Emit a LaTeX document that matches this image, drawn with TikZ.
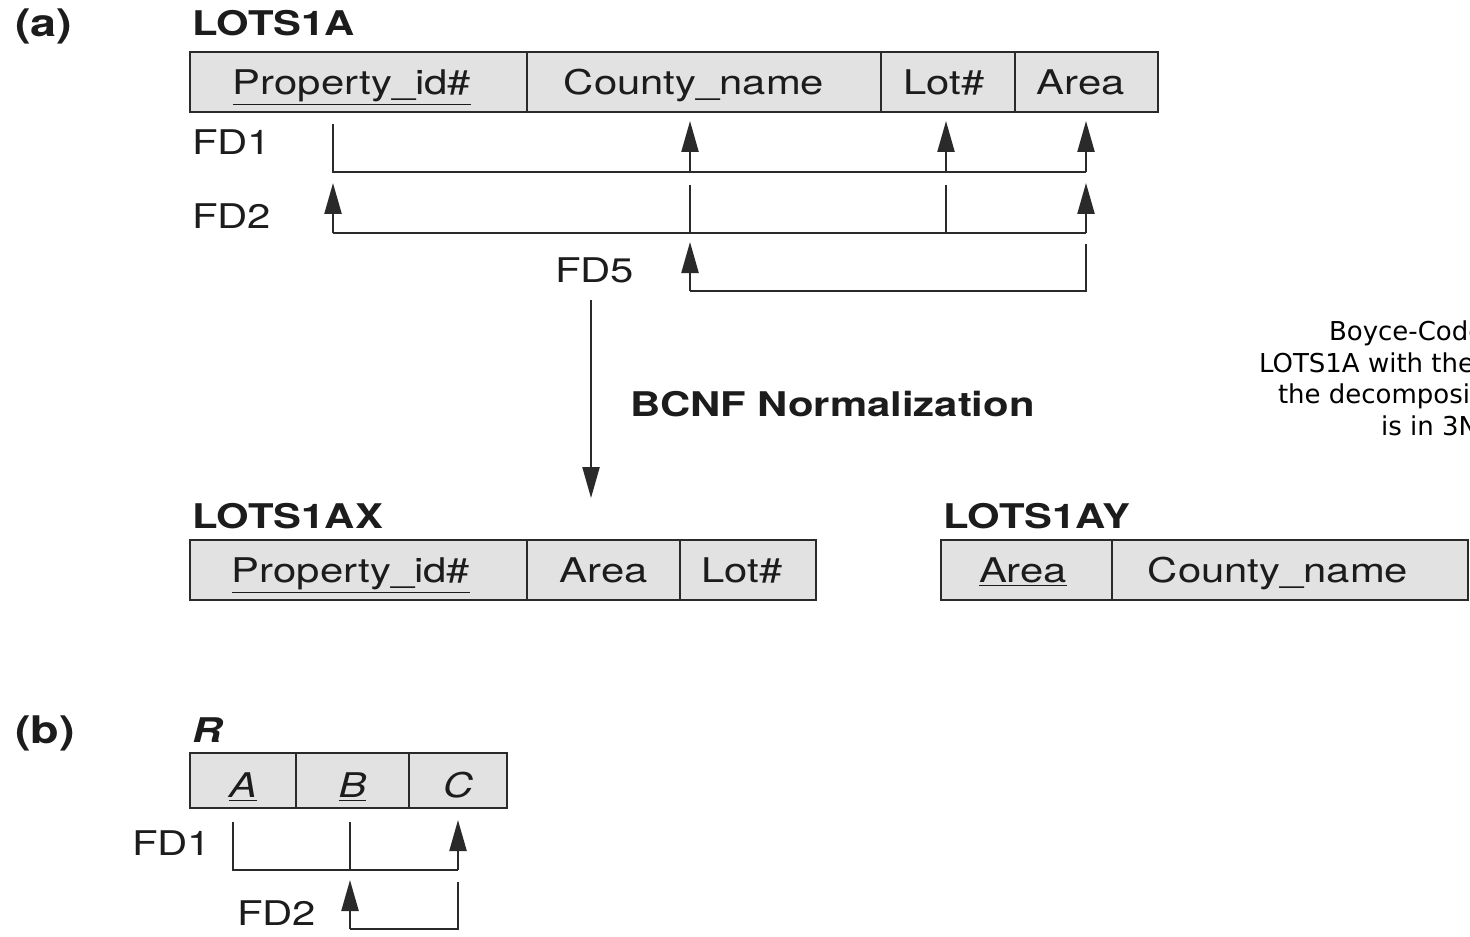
\documentclass[tikz,border=0pt]{standalone}
\usepackage{fontspec}
\setmainfont{TeX Gyre Heros}[FakeStretch=1.23]
\newfontfamily\capfont{DejaVu Sans}
\usetikzlibrary{arrows.meta}
\definecolor{linec}{HTML}{2A2A2A}
\definecolor{cellfill}{HTML}{E2E2E2}
\definecolor{txt}{HTML}{1C1C1C}
\newcommand\tf{\fontsize{17}{20}\selectfont}
\newcommand\lf{\fontsize{19}{22}\selectfont\bfseries}
\newcommand\cf{\capfont\fontsize{13}{16}\selectfont}
\tikzset{
  cell/.style={draw=linec, line width=1pt, fill=cellfill, inner sep=0pt, outer sep=0pt,
    anchor=north west, text height=12.5pt, text depth=0pt, font=\tf, text=txt},
  bcell/.style={cell, text height=17pt},
  frame/.style={draw=linec, line width=1.3pt},
  lbl/.style={anchor=base west, inner sep=0pt, outer sep=0pt, font=\tf, text=txt},
  hd/.style={lbl, font=\tf\bfseries},
  tag/.style={lbl, font=\lf},
  fd/.style={draw=linec, line width=1.15pt},
  fdarr/.style={fd, -{Triangle[length=15.5pt,width=8.5pt]}},
  captxt/.style={anchor=base west, inner sep=0pt, outer sep=0pt, font=\cf, text=black},
}
\begin{document}
\begin{tikzpicture}[x=0.5pt,y=-0.5pt]
\useasboundingbox (0,0) rectangle (1470,936);
\fill[white] (0,0) rectangle (1470,936);
\clip (0,0) rectangle (1470,936);

% ---------- (a) ----------
\node[tag] (ta) at (15,37) {(a)};
\node[hd] (hA) at (192,36) {LOTS1A};

\node[cell, minimum width=168.5pt, minimum height=30pt] (t1) at (190,52) {\underline{Property\_id\#}\kern6.5pt};
\node[cell, minimum width=177pt, minimum height=30pt] (t2) at (t1.north east) {County\_name\kern10pt};
\node[cell, minimum width=67pt, minimum height=30pt] (t3) at (t2.north east) {Lot\#\kern4pt};
\node[cell, minimum width=71.5pt, minimum height=30pt] (t4) at (t3.north east) {Area\kern6pt};
\draw[frame] (t1.north west) rectangle (t4.south east);

\node[lbl] (fd1) at (192,155) {FD1};
\node[lbl] (fd2) at (192,228) {FD2};
\node[lbl] (fd5) at (555,282) {FD5};

% FD1
\coordinate (a1) at (333,124);
\coordinate (a1c) at (333,172);
\coordinate (c1c) at (690,172);
\coordinate (l1c) at (946,172);
\coordinate (r1c) at (1086,172);
\coordinate (c1t) at (690,121);
\coordinate (l1t) at (946,121);
\coordinate (r1t) at (1086,121);
\draw[fd] (a1) -- (a1c) -- (r1c);
\draw[fdarr] (c1c) -- (c1t);
\draw[fdarr] (l1c) -- (l1t);
\draw[fdarr] (r1c) -- (r1t);

% FD2
\coordinate (a2c) at (333,233);
\coordinate (a2t) at (333,183);
\coordinate (c2s) at (690,185);
\coordinate (c2c) at (690,233);
\coordinate (l2s) at (946,185);
\coordinate (l2c) at (946,233);
\coordinate (r2c) at (1086,233);
\coordinate (r2t) at (1086,183);
\draw[fd] (a2c) -- (r2c);
\draw[fdarr] (a2c) -- (a2t);
\draw[fd] (c2s) -- (c2c);
\draw[fd] (l2s) -- (l2c);
\draw[fdarr] (r2c) -- (r2t);

% FD5
\coordinate (c5c) at (690,291);
\coordinate (c5t) at (690,242);
\coordinate (r5s) at (1086,244);
\coordinate (r5c) at (1086,291);
\draw[fd] (r5s) -- (r5c) -- (c5c);
\draw[fdarr] (c5c) -- (c5t);

% BCNF arrow
\coordinate (bcA) at (591,300);
\coordinate (bcB) at (591,498);
\draw[fdarr] (bcA) -- (bcB);
\node[hd] (bcnf) at (630,416) {BCNF Normalization};

% LOTS1AX
\node[hd] (hX) at (192,528) {LOTS1AX};
\node[cell, minimum width=168.5pt, minimum height=30pt] (x1) at (190,540) {\underline{Property\_id\#}\kern7.5pt};
\node[cell, minimum width=76.5pt, minimum height=30pt] (x2) at (x1.north east) {Area};
\node[cell, minimum width=68pt, minimum height=30pt] (x3) at (x2.north east) {Lot\#\kern6pt};
\draw[frame] (x1.north west) rectangle (x3.south east);

% LOTS1AY
\node[hd] (hY) at (943,528) {LOTS1AY};
\node[cell, minimum width=85.5pt, minimum height=30pt] (y1) at (941,540) {\underline{Area}\kern3.5pt};
\node[cell, minimum width=178pt, minimum height=30pt] (y2) at (y1.north east) {County\_name\kern12pt};
\draw[frame] (y1.north west) rectangle (y2.south east);

% caption fragment
\node[captxt] (cp1) at (1329,340) {Boyce-Codd};
\node[captxt] (cp2) at (1259,372) {LOTS1A with the};
\node[captxt] (cp3) at (1278,403) {the decomposit};
\node[captxt] (cp4) at (1381,435) {is in 3N};

% ---------- (b) ----------
\node[tag] (tb) at (15,743) {(b)};
\node[hd] (hR) at (192,742) {\itshape R};
\node[bcell, minimum width=53pt, minimum height=27.5pt] (r1) at (190,753) {\underline{\itshape A}};
\node[bcell, minimum width=56.5pt, minimum height=27.5pt] (r2) at (r1.north east) {\underline{\itshape B}};
\node[bcell, minimum width=49pt, minimum height=27.5pt] (r3) at (r2.north east) {\itshape C};
\draw[frame] (r1.north west) rectangle (r3.south east);

\node[lbl] (bfd1) at (132,855) {FD1};
\node[lbl] (bfd2) at (237,925) {FD2};

\coordinate (ba1) at (233,822);
\coordinate (ba1c) at (233,870);
\coordinate (bb1) at (350,822);
\coordinate (bb1c) at (350,870);
\coordinate (bc1c) at (458,870);
\coordinate (bc1t) at (458,820);
\draw[fd] (ba1) -- (ba1c) -- (bc1c);
\draw[fd] (bb1) -- (bb1c);
\draw[fdarr] (bc1c) -- (bc1t);

\coordinate (bb2c) at (350,929);
\coordinate (bb2t) at (350,880);
\coordinate (bc2s) at (458,882);
\coordinate (bc2c) at (458,929);
\draw[fd] (bc2s) -- (bc2c) -- (bb2c);
\draw[fdarr] (bb2c) -- (bb2t);
\end{tikzpicture}
\end{document}
